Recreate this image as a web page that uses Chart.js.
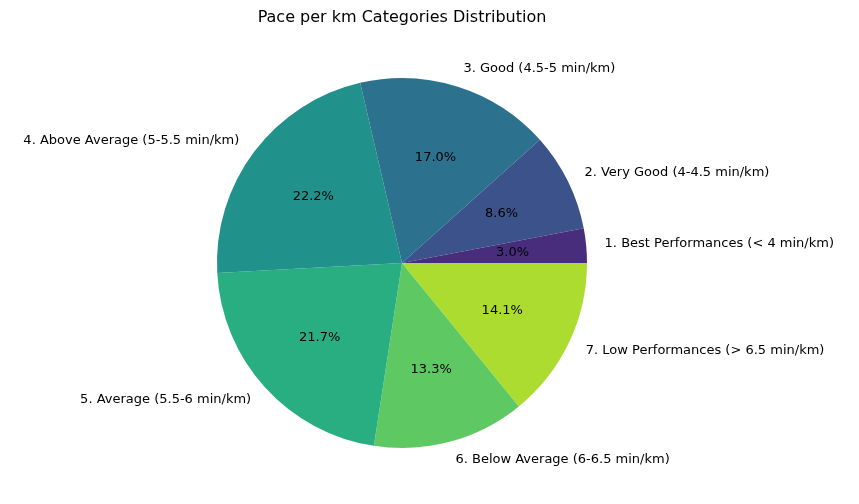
<!DOCTYPE html>
<html>
<head>
<meta charset="utf-8">
<script src="https://cdn.jsdelivr.net/npm/chart.js@4"></script>
<style>
  html, body { margin: 0; padding: 0; background: #fff; }
  #wrap { width: 859px; height: 504px; }
</style>
</head>
<body>
<div id="wrap"><canvas id="pie"></canvas></div>
<script>
// Data, in matplotlib order (counter-clockwise from 3 o'clock)
const categories = [
  '1. Best Performances (< 4 min/km)',
  '2. Very Good (4-4.5 min/km)',
  '3. Good (4.5-5 min/km)',
  '4. Above Average (5-5.5 min/km)',
  '5. Average (5.5-6 min/km)',
  '6. Below Average (6-6.5 min/km)',
  '7. Low Performances (> 6.5 min/km)'
];
const shares = [3.0, 8.6, 17.0, 22.2, 21.7, 13.3, 14.1];
const colors = ['#472d7b', '#3b528b', '#2c728e', '#21918c', '#28ae80', '#5ec962', '#addc30'];
const chartTitle = 'Pace per km Categories Distribution';

// Chart.js draws clockwise, so reverse to get the same layout
const labels = categories.slice().reverse();
const data = shares.slice().reverse();
const bg = colors.slice().reverse();

const FONT = '13px "DejaVu Sans", sans-serif';

// Draws outside labels, inside percentages and the title
const pieText = {
  id: 'pieText',
  afterDatasetsDraw(chart) {
    const ctx = chart.ctx;
    const meta = chart.getDatasetMeta(0);
    ctx.save();
    ctx.font = FONT;
    ctx.fillStyle = '#000';
    ctx.textBaseline = 'middle';
    meta.data.forEach((arc, i) => {
      const mid = (arc.startAngle + arc.endAngle) / 2;
      const r = arc.outerRadius;
      const cos = Math.cos(mid), sin = Math.sin(mid);
      ctx.textAlign = 'center';
      ctx.fillText(data[i].toFixed(1) + '%', arc.x + cos * r * 0.6, arc.y + sin * r * 0.6);
      ctx.textAlign = cos >= 0 ? 'left' : 'right';
      ctx.fillText(labels[i], arc.x + cos * r * 1.1, arc.y + sin * r * 1.1);
    });
    ctx.font = '16px "DejaVu Sans", sans-serif';
    ctx.textAlign = 'center';
    ctx.fillText(chartTitle, meta.data[0].x, 18);
    ctx.restore();
  }
};

new Chart(document.getElementById('pie').getContext('2d'), {
  type: 'pie',
  data: {
    labels,
    datasets: [{ data, backgroundColor: bg, borderWidth: 0 }]
  },
  options: {
    responsive: true,
    maintainAspectRatio: false,
    animation: false,
    rotation: 90,
    layout: { padding: { top: 78, bottom: 56, left: 217, right: 272 } },
    plugins: {
      legend: { display: false },
      tooltip: { enabled: false }
    }
  },
  plugins: [pieText]
});
</script>
</body>
</html>
